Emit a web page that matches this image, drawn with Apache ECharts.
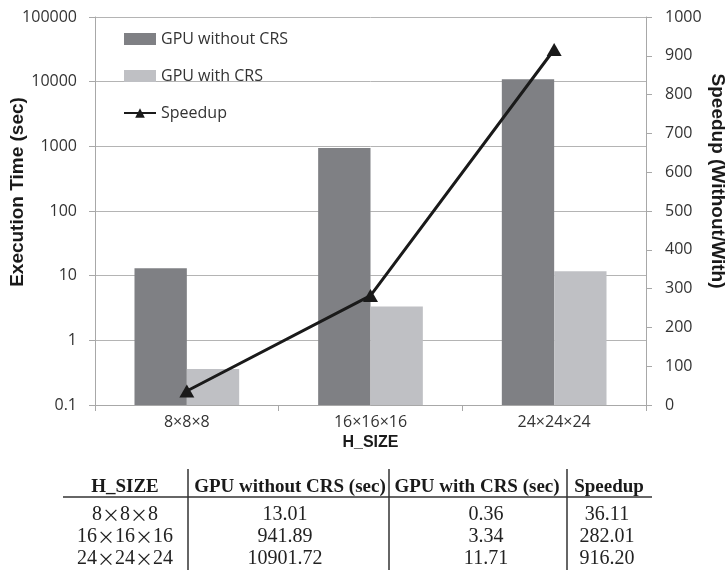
<!DOCTYPE html>
<html>
<head>
<meta charset="utf-8">
<script src="https://cdn.jsdelivr.net/npm/echarts@6/dist/echarts.min.js"></script>
<style>
  html, body { margin: 0; padding: 0; background: #ffffff; }
  #chart { width: 727px; height: 573px; }
</style>
</head>
<body>
<div id="chart"></div>
<script>
// Grid sizes tested
const categories = ['8×8×8', '16×16×16', '24×24×24'];
// Execution time in seconds
const gpuWithoutCrs = [13.01, 941.89, 10901.72];
const gpuWithCrs = [0.36, 3.34, 11.71];
// Speedup (without / with)
const speedup = [36.11, 282.01, 916.20];
// Table header row
const tableHeader = ['H_SIZE', 'GPU without CRS (sec)', 'GPU with CRS (sec)', 'Speedup'];

const chart = echarts.init(document.getElementById('chart'), null, { renderer: 'canvas' });

const labelFont = '"Open Sans", "Noto Sans", sans-serif';
const titleFont = '"Liberation Sans", Arial, sans-serif';
const tableFont = '"Liberation Serif", "Times New Roman", serif';

// Table drawn under the chart
const headerX = [125, 290, 477, 609];
const cellX = [125, 285, 486, 607];
const headerY = 487;
const rowY = [515, 537, 559];
const tableGraphics = [];
tableHeader.forEach(function (h, i) {
  tableGraphics.push({
    type: 'text', x: headerX[i], y: headerY,
    style: {
      text: h, fill: '#1a1a1a', fontSize: 19, fontWeight: 'bold', fontFamily: tableFont,
      align: 'center', verticalAlign: 'middle', textAlign: 'center', textVerticalAlign: 'middle'
    }
  });
});
categories.forEach(function (c, r) {
  const cells = [
    c.replace(/×/g, '{x|×}'),
    gpuWithoutCrs[r].toFixed(2),
    gpuWithCrs[r].toFixed(2),
    speedup[r].toFixed(2)
  ];
  cells.forEach(function (t, i) {
    tableGraphics.push({
      type: 'text', x: cellX[i], y: rowY[r],
      style: {
        text: t, fill: '#222222', fontSize: 20, fontFamily: tableFont,
        align: 'center', verticalAlign: 'middle', textAlign: 'center', textVerticalAlign: 'middle',
        rich: { x: { fontSize: 18, fontFamily: '"Noto Sans CJK JP", sans-serif', fill: '#222222' } }
      }
    });
  });
});
tableGraphics.push({
  type: 'line', shape: { x1: 63, y1: 497, x2: 652, y2: 497 },
  style: { stroke: '#333333', lineWidth: 1.5 }
});
[188, 389, 567].forEach(function (x) {
  tableGraphics.push({
    type: 'line', shape: { x1: x, y1: 469, x2: x, y2: 570 },
    style: { stroke: '#333333', lineWidth: 1.5 }
  });
});

const option = {
  backgroundColor: '#ffffff',
  animation: false,
  grid: { left: 95, right: 81, top: 17, bottom: 168, containLabel: false, outerBoundsMode: 'none' },
  legend: {
    orient: 'vertical',
    left: 123,
    top: 31,
    padding: 0,
    itemWidth: 32,
    itemHeight: 12,
    itemGap: 21,
    textStyle: { fontSize: 16, fontFamily: labelFont, color: '#333333' },
    data: [
      { name: 'GPU without CRS', icon: 'rect' },
      { name: 'GPU with CRS', icon: 'rect' },
      { name: 'Speedup' }
    ]
  },
  xAxis: {
    type: 'category',
    data: categories,
    name: 'H_SIZE',
    nameLocation: 'middle',
    nameGap: 25,
    nameTextStyle: { fontSize: 16, fontWeight: 'bold', fontFamily: titleFont, color: '#1a1a1a' },
    axisLine: { lineStyle: { color: '#a8a8a8', width: 1 } },
    axisTick: { show: true, length: 6, lineStyle: { color: '#a8a8a8' } },
    axisLabel: { fontSize: 16, fontFamily: labelFont, color: '#333333', margin: 9 }
  },
  yAxis: [
    {
      type: 'log',
      logBase: 10,
      min: 0.1,
      max: 100000,
      startValue: 0.1,
      name: 'Execution Time (sec)',
      nameLocation: 'middle',
      nameGap: 68,
      nameRotate: 90,
      nameMoveOverlap: false,
      nameTextStyle: { fontSize: 19, fontWeight: 'bold', fontFamily: titleFont, color: '#1a1a1a', padding: [0, 0, 0, 38] },
      axisLine: { show: true, lineStyle: { color: '#a8a8a8', width: 1 } },
      axisTick: { show: true, length: 6, lineStyle: { color: '#a8a8a8' } },
      splitLine: { show: true, lineStyle: { color: '#b4b4b4', width: 1 } },
      axisLabel: {
        fontSize: 16, fontFamily: labelFont, color: '#333333', margin: 18,
        formatter: function (v) { return String(Number(v.toPrecision(6))); }
      }
    },
    {
      type: 'value',
      min: 0,
      max: 1000,
      interval: 100,
      name: 'Speedup (Without/With)',
      nameLocation: 'middle',
      nameGap: 62,
      nameRotate: -90,
      nameMoveOverlap: false,
      nameTextStyle: { fontSize: 19, fontWeight: 'bold', fontFamily: titleFont, color: '#1a1a1a', padding: [0, 60, 0, 0] },
      axisLine: { show: true, lineStyle: { color: '#a8a8a8', width: 1 } },
      axisTick: { show: true, length: 6, lineStyle: { color: '#a8a8a8' } },
      splitLine: { show: false },
      axisLabel: {
        fontSize: 16, fontFamily: labelFont, color: '#333333', margin: 19,
        formatter: function (v) { return String(v); }
      }
    }
  ],
  series: [
    {
      name: 'GPU without CRS',
      type: 'bar',
      yAxisIndex: 0,
      data: gpuWithoutCrs,
      barCategoryGap: '43%',
      barGap: '0%',
      itemStyle: { color: '#7f8084' }
    },
    {
      name: 'GPU with CRS',
      type: 'bar',
      yAxisIndex: 0,
      data: gpuWithCrs,
      barCategoryGap: '43%',
      barGap: '0%',
      itemStyle: { color: '#bfc0c4' }
    },
    {
      name: 'Speedup',
      type: 'line',
      yAxisIndex: 1,
      data: speedup,
      symbol: 'triangle',
      symbolSize: [15, 13],
      lineStyle: { color: '#1a1a1a', width: 3 },
      itemStyle: { color: '#1a1a1a' },
      z: 5
    }
  ],
  graphic: tableGraphics
};

chart.setOption(option);
</script>
</body>
</html>
